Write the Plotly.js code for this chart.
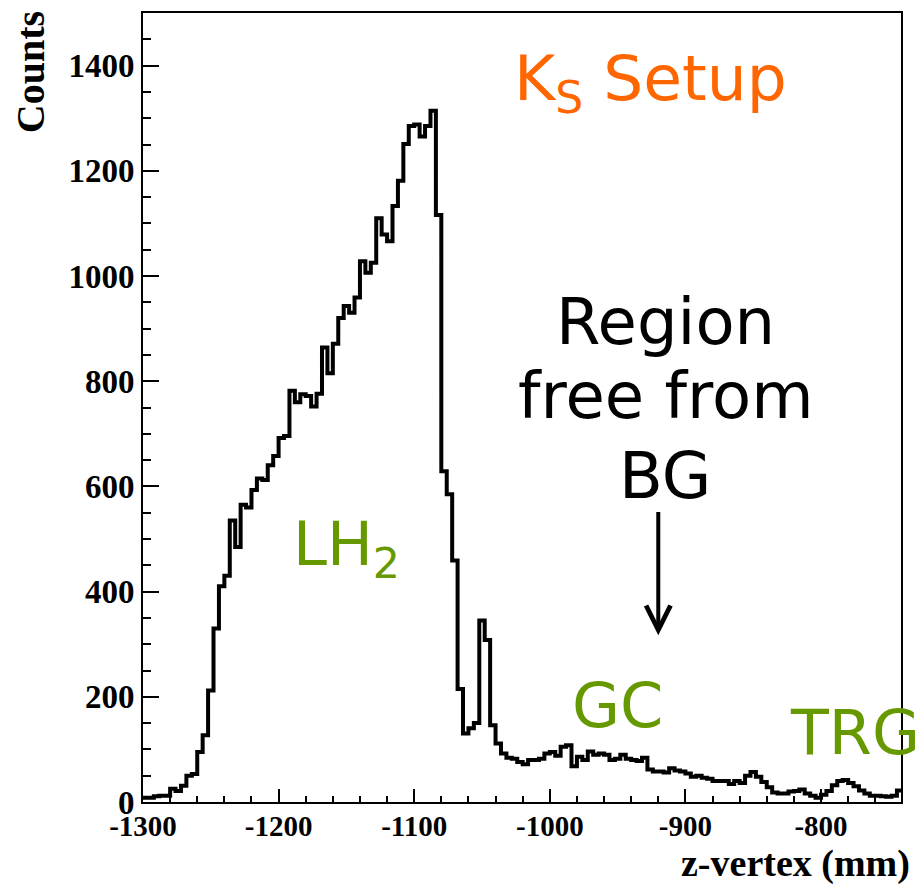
<!DOCTYPE html>
<html>
<head>
<meta charset="utf-8">
<script src="https://cdn.plot.ly/plotly-3.0.1.min.js"></script>
<style>html,body{margin:0;padding:0;background:#fff;}#chart{width:922px;height:884px;}</style>
</head>
<body>
<div id="chart"></div>
<script>
// Histogram: z-vertex bins of 4 mm starting at -1300 mm
const binStart = -1300;
const binWidth = 4;
const counts = [
  8, 8, 11, 12, 12, 25, 21, 31, 50, 53,
  95, 127, 212, 330, 410, 430, 535, 485, 565, 560,
  593, 615, 612, 640, 658, 692, 696, 782, 760, 775,
  772, 752, 776, 864, 815, 871, 920, 943, 930, 959,
  1028, 1006, 1025, 1110, 1079, 1066, 1133, 1181, 1251, 1285,
  1288, 1265, 1285, 1314, 1116, 629, 585, 459, 215, 130,
  140, 150, 345, 308, 146, 111, 92, 84, 82, 76,
  72, 80, 80, 82, 92, 95, 88, 105, 108, 68,
  86, 80, 96, 90, 92, 90, 80, 82, 90, 82,
  80, 78, 84, 62, 58, 58, 56, 64, 60, 58,
  54, 48, 50, 46, 44, 40, 40, 40, 34, 40,
  36, 50, 57, 48, 38, 28, 18, 16, 16, 20,
  21, 24, 16, 12, 8, 14, 21, 32, 40, 42,
  36, 30, 22, 16, 12, 12, 11, 10, 12, 22
];
const xTickVals = [-1300, -1200, -1100, -1000, -900, -800];
const xTickText = ['-1300', '-1200', '-1100', '-1000', '-900', '-800'];
const yTickVals = [0, 200, 400, 600, 800, 1000, 1200, 1400];
const yTickText = ['0', '200', '400', '600', '800', '1000', '1200', '1400'];

// step outline: left edges + final right edge
const xs = [], ys = [];
for (let i = 0; i < counts.length; i++) { xs.push(binStart + i * binWidth); ys.push(counts[i]); }
xs.push(binStart + counts.length * binWidth); ys.push(counts[counts.length - 1]);

const orange = '#FF6600';
const green = '#669900';
const serif = 'Liberation Serif, Times New Roman, serif';
const sans = 'DejaVu Sans, Verdana, sans-serif';

const trace = {
  x: xs, y: ys, type: 'scatter', mode: 'lines',
  line: {shape: 'hv', color: '#000', width: 4},
  hoverinfo: 'skip', showlegend: false
};

const layout = {
  width: 922, height: 884,
  margin: {l: 143, r: 21, t: 13, b: 82},
  paper_bgcolor: '#fff', plot_bgcolor: '#fff',
  showlegend: false,
  xaxis: {
    range: [-1300, -741], showgrid: false, zeroline: false,
    showline: true, linecolor: '#000', linewidth: 2, mirror: true,
    ticks: 'inside', ticklen: 13, tickwidth: 2, tickcolor: '#000',
    tickvals: xTickVals, ticktext: xTickText, ticklabelstandoff: -3,
    tickfont: {family: serif, size: 29, color: '#000', weight: 'bold'},
    minor: {dtick: 20, tick0: -1300, ticks: 'inside', ticklen: 6, tickwidth: 2, tickcolor: '#000', showgrid: false}
  },
  yaxis: {
    range: [0, 1500], showgrid: false, zeroline: false,
    showline: true, linecolor: '#000', linewidth: 2, mirror: true,
    ticks: 'inside', ticklen: 16, tickwidth: 2, tickcolor: '#000',
    tickvals: yTickVals, ticktext: yTickText,
    tickfont: {family: serif, size: 33, color: '#000', weight: 'bold'},
    minor: {dtick: 50, tick0: 0, ticks: 'inside', ticklen: 8, tickwidth: 2, tickcolor: '#000', showgrid: false}
  },
  annotations: [
    {xref: 'paper', yref: 'paper', x: -0.149, y: 0.925, text: 'Counts', textangle: -90, showarrow: false,
     xanchor: 'center', yanchor: 'middle', font: {family: serif, size: 40, color: '#000', weight: 'bold'}},
    {xref: 'paper', yref: 'paper', x: 1.0145, y: -0.078, text: 'z-vertex (mm)', showarrow: false,
     xanchor: 'right', yanchor: 'middle', font: {family: serif, size: 38, color: '#000', weight: 'bold'}},
    {x: -926, y: 1368, text: 'K<sub>S</sub> Setup', showarrow: false, font: {family: sans, size: 63, color: orange}},
    {x: -915, y: 913, text: 'Region', showarrow: false, font: {family: sans, size: 64, color: '#000'}},
    {x: -915, y: 772, text: 'free from', showarrow: false, font: {family: sans, size: 64, color: '#000'}},
    {x: -915, y: 620, text: 'BG', showarrow: false, font: {family: sans, size: 64, color: '#000'}},
    {x: -1150, y: 482, text: 'LH<sub>2</sub>', showarrow: false, font: {family: sans, size: 61, color: green}},
    {x: -950, y: 184, text: 'GC', showarrow: false, font: {family: sans, size: 62, color: green}},
    {x: -775, y: 133, text: 'TRG', showarrow: false, font: {family: sans, size: 62, color: green}},
    {x: -920, y: 317, ax: -920, ay: 554, axref: 'x', ayref: 'y', text: '', showarrow: true,
     arrowhead: 5, arrowsize: 1.2, arrowwidth: 4, arrowcolor: '#000'}
  ]
};

Plotly.newPlot('chart', [trace], layout, {staticPlot: true, displayModeBar: false});
</script>
</body>
</html>
